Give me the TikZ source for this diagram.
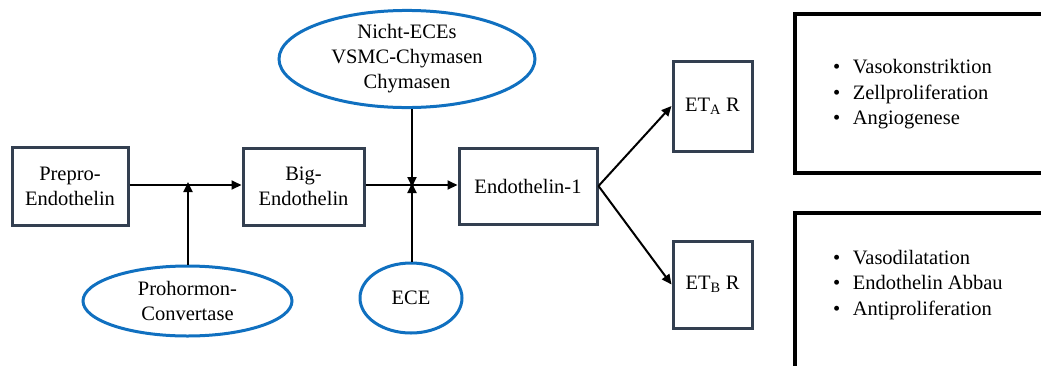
\documentclass[tikz,border=0pt]{standalone}
\usepackage{fontspec}
\setmainfont{LiberationSerif}[Extension=.ttf, UprightFont=*-Regular, BoldFont=*-Bold, ItalicFont=*-Italic, BoldItalicFont=*-BoldItalic]
\usetikzlibrary{shapes.geometric,arrows.meta}
\definecolor{boxcol}{HTML}{333F50}
\definecolor{ellcol}{HTML}{1070C0}
\tikzset{
  stepbox/.style={draw=boxcol, line width=3pt, rectangle, inner sep=0pt, align=center, font=\fontsize{20.5}{25}\selectfont},
  enzyme/.style={draw=ellcol, line width=3pt, ellipse, inner sep=0pt, align=center, font=\fontsize{20.5}{25}\selectfont},
  conn/.style={line width=2pt, -{Triangle[length=10pt,width=9pt]}},
  effectbox/.style={line width=3.5pt, draw=black},
  effecttext/.style={inner sep=0pt, anchor=west, font=\fontsize{20.5}{25.5}\selectfont}
}
\begin{document}
\begin{tikzpicture}[x=1pt,y=-1pt]
\useasboundingbox (0,0) rectangle (1041,365);
% boxes
\node[stepbox, minimum width=116pt, minimum height=78pt] (prepro) at (70,186) {Prepro-\\Endothelin};
\node[stepbox, minimum width=121pt, minimum height=77pt] (big) at (303.5,186.5) {Big-\\Endothelin};
\node[stepbox, minimum width=138pt, minimum height=76pt] (et1) at (528,186) {Endothelin-1};
\node[stepbox, minimum width=79pt, minimum height=90pt] (eta) at (712.5,106) {ET\textsubscript{A} R};
\node[stepbox, minimum width=79pt, minimum height=87pt] (etb) at (712.5,284.5) {ET\textsubscript{B} R};
% ellipses
\node[enzyme, minimum width=256pt, minimum height=93pt] (nicht) at (407,59) {Nicht-ECEs\\VSMC-Chymasen\\Chymasen};
\node[enzyme, minimum width=209pt, minimum height=70pt] (pc) at (187.5,301) {Prohormon-\\Convertase};
\node[enzyme, minimum width=102pt, minimum height=70pt] (ece) at (411,298) {ECE};
% junctions
\coordinate (j1) at (188,185);
\coordinate (j2) at (412,185);
% connectors
\draw[conn] (prepro.east |- j1) -- (big.west |- j1);
\draw[conn] (pc.north -| j1) -- ([yshift=3pt]j1);
\draw[conn] (big.east |- j2) -- (et1.west |- j2);
\draw[conn] (nicht.south -| j2) -- ([yshift=-2pt]j2);
\draw[conn] (ece.north -| j2) -- ([yshift=2pt]j2);
\draw[conn] (et1.east) -- (eta.west);
\draw[conn] (et1.east) -- (etb.west);
% effect boxes
\draw[effectbox] (1046,14) -- (795,14) -- (795,173) -- (1046,173);
\draw[effectbox] (1046,213) -- (795,213) -- (795,370);
\node[effecttext] (effa) at (833,94) {\begin{tabular}{@{}l@{\hspace{12.5pt}}l@{}}\textbullet & Vasokonstriktion\\ \textbullet & Zellproliferation\\ \textbullet & Angiogenese\end{tabular}};
\node[effecttext] (effb) at (833,284.5) {\begin{tabular}{@{}l@{\hspace{12.5pt}}l@{}}\textbullet & Vasodilatation\\ \textbullet & Endothelin Abbau\\ \textbullet & Antiproliferation\end{tabular}};
\end{tikzpicture}
\end{document}
